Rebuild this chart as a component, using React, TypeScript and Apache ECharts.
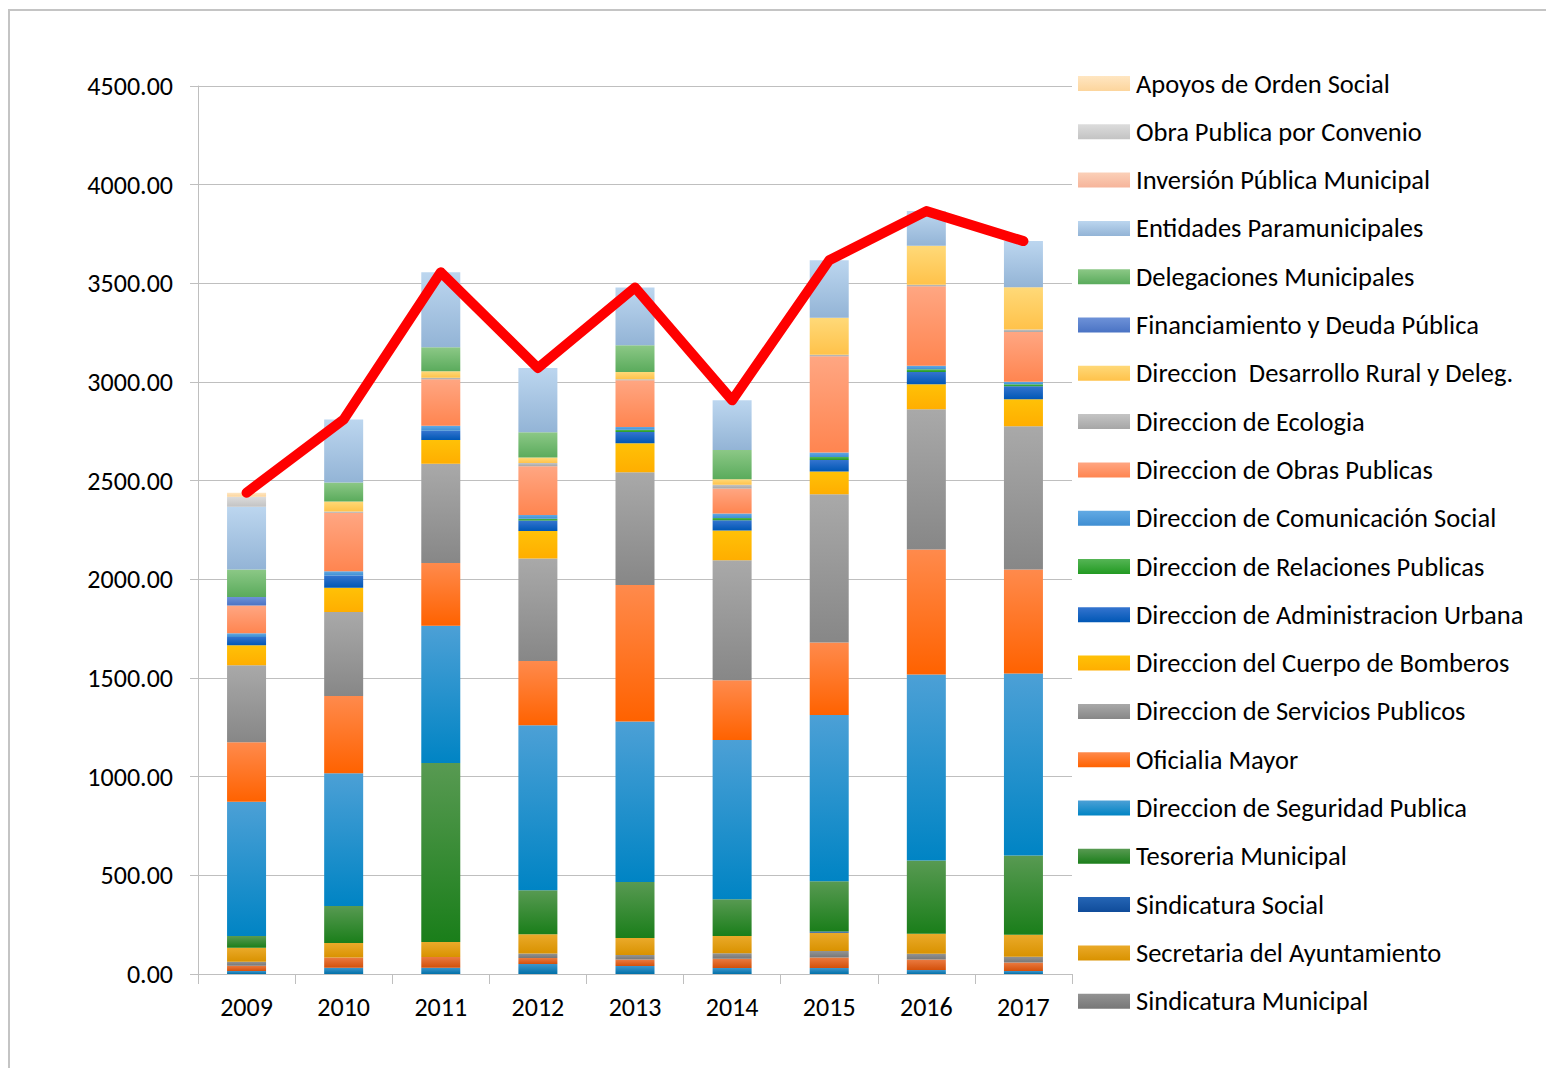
import React, { useEffect, useRef } from "react";
import * as echarts from "echarts";

// ---- Data ----
const years = ["2009", "2010", "2011", "2012", "2013", "2014", "2015", "2016", "2017"];

// stack order: bottom to top
const serieBaseAzul = [15, 32, 32, 51, 40, 30, 30, 20, 15];
const serieBaseNaranja = [27, 51, 54, 30, 33, 47, 53, 53, 43];
const sindicaturaMunicipal = [20, 0, 0, 23, 23, 28, 33, 30, 30];
const secretariaAyuntamiento = [71, 74, 76, 98, 86, 88, 93, 101, 111];
const sindicaturaSocial = [0, 0, 0, 0, 0, 0, 6, 0, 0];
const tesoreriaMunicipal = [59, 188, 907, 223, 284, 186, 255, 371, 401];
const seguridadPublica = [681, 672, 696, 835, 814, 807, 842, 943, 923];
const oficialiaMayor = [302, 392, 318, 326, 691, 302, 368, 633, 527];
const serviciosPublicos = [390, 426, 503, 519, 572, 609, 751, 711, 726];
const cuerpoBomberos = [101, 122, 120, 140, 147, 151, 116, 126, 136];
const administracionUrbana = [42, 62, 47, 53, 56, 51, 58, 63, 66];
const relacionesPublicas = [0, 0, 0, 9, 12, 12, 15, 13, 10];
const comunicacionSocial = [19, 22, 25, 19, 14, 23, 23, 18, 13];
const obrasPublicas = [140, 296, 236, 247, 237, 126, 487, 403, 252];
const ecologia = [0, 7, 8, 16, 5, 19, 8, 8, 13];
const desarrolloRural = [0, 51, 32, 28, 37, 28, 187, 197, 214];
const financiamientoDeuda = [44, 0, 0, 0, 0, 0, 0, 0, 0];
const delegacionesMunicipales = [139, 96, 122, 128, 135, 149, 0, 0, 0];
const entidadesParamunicipales = [318, 319, 380, 326, 293, 251, 292, 176, 234];
const inversionPublica = [0, 0, 0, 0, 0, 0, 0, 0, 0];
const obraPublicaConvenio = [51, 0, 0, 0, 0, 0, 0, 0, 0];
const apoyosOrdenSocial = [20, 0, 0, 0, 0, 0, 0, 0, 0];

const stackNames = [
  "Serie A",
  "Serie B",
  "Sindicatura Municipal",
  "Secretaria del Ayuntamiento",
  "Sindicatura Social",
  "Tesoreria Municipal",
  "Direccion de Seguridad Publica",
  "Oficialia Mayor",
  "Direccion de Servicios Publicos",
  "Direccion del Cuerpo de Bomberos",
  "Direccion de Administracion Urbana",
  "Direccion de Relaciones Publicas",
  "Direccion de Comunicación Social",
  "Direccion de Obras Publicas",
  "Direccion de Ecologia",
  "Direccion  Desarrollo Rural y Deleg.",
  "Financiamiento y Deuda Pública",
  "Delegaciones Municipales",
  "Entidades Paramunicipales",
  "Inversión Pública Municipal",
  "Obra Publica por Convenio",
  "Apoyos de Orden Social",
];

const stackValues = [
  serieBaseAzul,
  serieBaseNaranja,
  sindicaturaMunicipal,
  secretariaAyuntamiento,
  sindicaturaSocial,
  tesoreriaMunicipal,
  seguridadPublica,
  oficialiaMayor,
  serviciosPublicos,
  cuerpoBomberos,
  administracionUrbana,
  relacionesPublicas,
  comunicacionSocial,
  obrasPublicas,
  ecologia,
  desarrolloRural,
  financiamientoDeuda,
  delegacionesMunicipales,
  entidadesParamunicipales,
  inversionPublica,
  obraPublicaConvenio,
  apoyosOrdenSocial,
];

// gradient colours (top, bottom) per series, same order
const stackColors: [string, string][] = [
  ["#3d95cc", "#0070a8"],
  ["#ea7a40", "#d4500a"],
  ["#939393", "#777777"],
  ["#eaaa2a", "#d99200"],
  ["#2565b5", "#0f4c9a"],
  ["#589a52", "#1a7e1a"],
  ["#4ca0d6", "#0084c4"],
  ["#ff8a4c", "#ff6200"],
  ["#a9a9a9", "#878787"],
  ["#ffc107", "#ffae00"],
  ["#3474cf", "#0057b5"],
  ["#55b555", "#229a22"],
  ["#62aae4", "#3f8ed2"],
  ["#ffa682", "#ff8550"],
  ["#c4c4c4", "#a6a6a6"],
  ["#ffd978", "#ffc24a"],
  ["#6e92d8", "#4a73c4"],
  ["#8cc886", "#5aab5c"],
  ["#bcd6ef", "#93b4d6"],
  ["#fbd0b8", "#f6b49a"],
  ["#dcdcdc", "#c3c3c3"],
  ["#ffe6c2", "#fcd59c"],
];

const totals = years.map((_, i) => stackValues.reduce((s, arr) => s + arr[i], 0));

const FONT = "Carlito, Calibri, Lato, sans-serif";

export default function App() {
  const ref = useRef<HTMLDivElement>(null);

  useEffect(() => {
    if (!ref.current) return;
    const chart = echarts.init(ref.current, null, { renderer: "svg" });

    const barSeries = stackNames.map((name, idx) => ({
      name,
      type: "bar",
      stack: "total",
      barWidth: 39,
      data: stackValues[idx],
      itemStyle: {
        color: new echarts.graphic.LinearGradient(0, 0, 0, 1, [
          { offset: 0, color: stackColors[idx][0] },
          { offset: 1, color: stackColors[idx][1] },
        ]),
      },
      emphasis: { disabled: true },
    }));

    const legendNames = stackNames.slice(2).reverse();

    chart.setOption({
      animation: false,
      backgroundColor: "#ffffff",
      graphic: [
        {
          type: "rect",
          shape: { x: 9, y: 10, width: 1600, height: 1100 },
          style: { fill: "none", stroke: "#c4c4c4", lineWidth: 2 },
          silent: true,
        },
      ],
      grid: { left: 198, right: 474, top: 86, bottom: 94, containLabel: false },
      legend: {
        orient: "vertical",
        left: 1078,
        top: 70,
        padding: 0,
        itemWidth: 52,
        itemHeight: 15,
        itemGap: 21.3,
        icon: "rect",
        data: legendNames,
        textStyle: { fontFamily: FONT, fontSize: 26.5, color: "#000000", lineHeight: 24, padding: [0, 0, 0, 1] },
        selectedMode: false,
      },
      xAxis: {
        type: "category",
        data: years,
        axisLine: { show: true, lineStyle: { color: "#bfbfbf", width: 1 } },
        axisTick: { show: true, length: 10, lineStyle: { color: "#bfbfbf" } },
        axisLabel: { color: "#000000", fontFamily: FONT, fontSize: 26, margin: 20 },
      },
      yAxis: {
        type: "value",
        min: 0,
        max: 4500,
        interval: 500,
        axisLine: { show: true, lineStyle: { color: "#bfbfbf", width: 1 } },
        axisTick: { show: true, inside: false, length: 8, lineStyle: { color: "#bfbfbf" } },
        splitLine: { show: true, lineStyle: { color: "#bfbfbf", width: 1 } },
        axisLabel: {
          color: "#000000",
          fontFamily: FONT,
          fontSize: 26,
          margin: 25,
          formatter: (v: number) => v.toFixed(2),
        },
      },
      series: [
        ...barSeries,
        {
          name: "Total",
          type: "line",
          data: totals,
          symbol: "none",
          z: 10,
          lineStyle: { color: "#ff0000", width: 10, cap: "round", join: "round" },
          itemStyle: { color: "#ff0000" },
          emphasis: { disabled: true },
        },
      ],
    });

    return () => chart.dispose();
  }, []);

  return (
    <div
      ref={ref}
      style={{ position: "fixed", left: 0, top: 0, width: 1546, height: 1068, background: "#fff" }}
    />
  );
}
